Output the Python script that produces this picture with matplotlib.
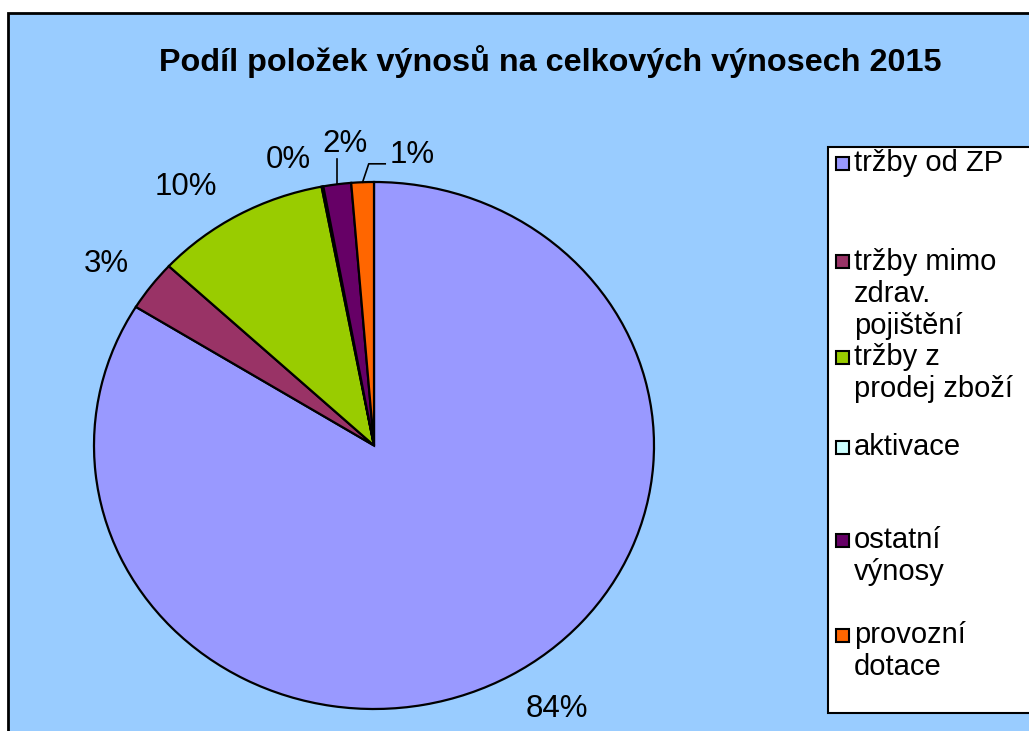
import numpy as np
import matplotlib.pyplot as plt
from matplotlib.patches import Rectangle

plt.rcParams['font.family'] = ['Liberation Sans', 'DejaVu Sans']

title = 'Podíl položek výnosů na celkových výnosech 2015'
labels = ['tržby od ZP', 'tržby mimo\nzdrav.\npojištění', 'tržby z\nprodej zboží',
          'aktivace', 'ostatní\nvýnosy', 'provozní\ndotace']
shares = [83.9, 3.1, 10.1, 0.1, 1.6, 1.3]
colors = ['#9999FF', '#993366', '#99CC00', '#CCFFFF', '#660066', '#FF6600']

W, H = 1029, 731
fig = plt.figure(figsize=(W / 100, H / 100), dpi=100)
fig.patch.set_facecolor('white')

# chart area (blue, black frame on top/left) - keep it behind the axes
fig.add_artist(Rectangle((8 / W, -0.1), 1.2, (H - 13) / H + 0.1,
                         transform=fig.transFigure, facecolor='#99CCFF',
                         edgecolor='black', lw=2, zorder=-5))

fig.text(550 / W, 1 - 62 / H, title, ha='center', va='center',
         fontsize=23.3, fontweight='bold')

# pie (slightly wider than tall, like the original)
ax = fig.add_axes([94 / W, 22 / H, 560 / W, 527 / H])
ax.patch.set_visible(False)
wedges, _ = ax.pie(shares, colors=colors, startangle=90, counterclock=False,
                   wedgeprops=dict(edgecolor='black', linewidth=1.6))
for w in wedges:
    w.set_clip_on(False)
ax.set_aspect('auto')
ax.set_xlim(-1, 1)
ax.set_ylim(-1, 1)
ax.axis('off')

pct = np.array(shares) / sum(shares) * 100
# label placement: angle shift from wedge middle, distance from centre
lab_shift = [4.0, 1.6, 5.4, 5.2, -2.4, -9.4]
lab_r = [1.194, 1.178, 1.188, 1.127, 1.147, 1.112]
for i, w in enumerate(wedges):
    mid = np.deg2rad((w.theta1 + w.theta2) / 2)
    a = mid + np.deg2rad(lab_shift[i])
    ax.text(lab_r[i] * np.cos(a), lab_r[i] * np.sin(a), '%.0f%%' % pct[i],
            ha='center', va='center', fontsize=22.5)

# leader lines for the two small slices
m4 = np.deg2rad((wedges[4].theta1 + wedges[4].theta2) / 2)
ax.plot([np.cos(m4), np.cos(m4)], [np.sin(m4), 1.087], color='black', lw=1.2,
        clip_on=False)
m5 = np.deg2rad((wedges[5].theta1 + wedges[5].theta2) / 2)
ax.plot([np.cos(m5), np.cos(m5) + 0.022, 0.040], [np.sin(m5), 1.069, 1.069],
        color='black', lw=1.2, clip_on=False)

# legend box drawn by hand (Excel-like uneven spacing)
fig.add_artist(Rectangle((828 / W, (H - 713) / H), 0.3, (713 - 147) / H,
                         transform=fig.transFigure, facecolor='white',
                         edgecolor='black', lw=1.5))
legend_y = [163, 262, 357, 447, 540, 635]
for lab, c, y in zip(labels, colors, legend_y):
    fig.add_artist(Rectangle((836 / W, (H - y - 6.5) / H), 13 / W, 13 / H,
                             transform=fig.transFigure, facecolor=c,
                             edgecolor='black', lw=1.5))
    for j, line in enumerate(lab.split('\n')):
        fig.text(854 / W, (H - y - j * 32) / H, line, ha='left', va='center',
                 fontsize=21)

fig.savefig('out.png', dpi=100, facecolor=fig.get_facecolor())
